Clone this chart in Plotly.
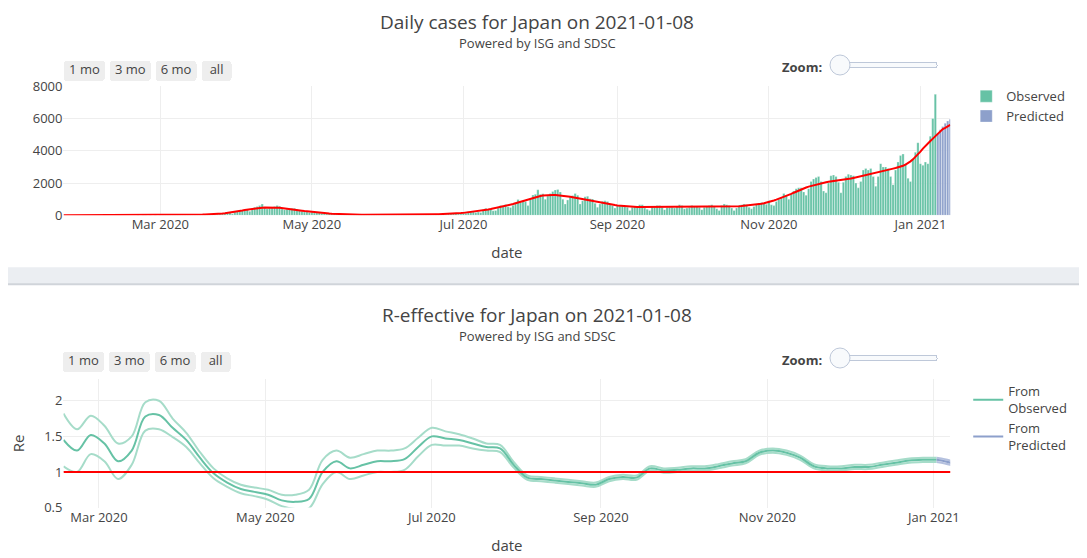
import plotly.graph_objects as go
import pandas as pd
import numpy as np

obs_start = "2020-01-22"
cases_jan = [0,0,0,1,0,1,2,1,2,1]
cases_feb = [1,0,0,2,0,1,3,1,0,1,0,2,3,5,8,2,4,5,10,8,12,9,15,12,10,14,10,16,9]
cases_mar = [15,20,25,12,30,28,40,30,25,20,50,55,45,60,35,30,40,35,38,30,45,40,50,60,90,95,110,140,175,90,210]
cases_apr = [250,260,300,320,370,250,350,500,550,600,700,520,400,450,480,550,600,560,400,350,380,420,430,440,380,300,250,210,220,180]
cases_may = [200,150,200,180,120,100,90,110,80,90,60,70,50,55,80,40,30,20,20,30,25,20,15,30,20,25,35,40,45,35,30]
cases_jun = [40,35,45,40,50,35,45,30,30,40,45,40,50,55,45,40,45,35,60,70,60,55,40,55,80,100,90,110,80,100]
cases_jul = [120,130,220,250,210,180,200,180,350,430,380,400,280,300,450,600,590,670,530,480,620,780,980,800,860,850,600,980,1260,1300,1580]
cases_aug = [1300,1330,1000,1200,1350,1480,1570,1600,1450,1000,700,950,1170,1230,1350,1250,700,900,1150,1180,1020,1010,750,500,700,870,900,850,650,600,450]
cases_sep = [600,570,600,550,500,300,500,550,580,650,650,450,380,300,580,500,600,600,500,350,480,500,500,450,550,650,600,400,450,500]
cases_oct = [600,550,550,500,350,500,550,600,650,550,400,300,600,700,650,600,450,300,450,600,650,700,650,500,400,550,700,750,800,750,680]
cases_nov = [900,650,600,850,1000,1100,1350,1200,1000,1300,1500,1650,1700,1700,1450,1250,1650,2100,2250,2350,2400,2100,1500,1400,2000,2450,2500,2400,2050,1400]
cases_dec = [2050,2400,2550,2500,2450,2000,1700,2100,2800,2900,2800,2900,2400,1800,2400,3200,3000,3000,2900,2400,1900,2800,3300,3700,3800,3200,2300,2100,3500,3900,4500]
cases_jan21 = [3200,3100,3300,3200,4900,6000,7500]
pred_start = "2021-01-08"
pred_cases = [5100,5300,5500,5700,5850,5950]

re_start = "2020-02-17"
re_mean = [1.45,1.3,1.52,1.4,1.15,1.3,1.78,1.8,1.62,1.45,1.2,0.98,0.85,0.76,0.72,0.68,0.6,0.58,0.62,1.0,
           1.15,1.05,1.1,1.15,1.15,1.18,1.35,1.5,1.47,1.45,1.4,1.35,1.33,1.1,0.92,0.9,0.88,0.86,0.84,0.82,
           0.9,0.93,0.92,1.05,1.02,1.03,1.05,1.05,1.08,1.12,1.15,1.27,1.3,1.27,1.2,1.08,1.05,1.05,1.07,1.07,
           1.1,1.13,1.16,1.17,1.17]
re_spread = [0.37,0.3,0.27,0.25,0.25,0.2,0.2,0.2,0.13,0.1,0.08,0.07,0.06,0.06,0.06,0.07,0.08,0.1,0.13,0.17,
             0.15,0.15,0.15,0.15,0.15,0.15,0.13,0.12,0.1,0.08,0.07,0.05,0.05,0.04,0.03,0.03,0.03,0.03,0.03,0.03,
             0.03,0.03,0.03,0.03,0.03,0.03,0.03,0.03,0.03,0.03,0.03,0.03,0.03,0.03,0.03,0.03,0.03,0.03,0.03,0.03,
             0.03,0.03,0.03,0.03,0.03]
re_pred_dates = ["2021-01-02","2021-01-05","2021-01-08"]
re_pred = [1.17,1.15,1.12]
re_pred_spread = [0.03,0.03,0.03]

GREEN = "#66c2a5"; BLUE = "#8da0cb"; LGREEN = "#a6dcc9"; LBLUE = "#b4c0de"

obs = (cases_jan+cases_feb+cases_mar+cases_apr+cases_may+cases_jun+cases_jul+cases_aug+
       cases_sep+cases_oct+cases_nov+cases_dec+cases_jan21)
obs_dates = pd.date_range(obs_start, periods=len(obs), freq="D")
pred_dates = pd.date_range(pred_start, periods=len(pred_cases), freq="D")
allv = pd.Series(obs + pred_cases, index=obs_dates.append(pred_dates))
trend = allv.rolling(15, center=True, min_periods=1).mean().rolling(7, center=True, min_periods=1).mean()

re_dates = pd.date_range(re_start, periods=len(re_mean), freq="5D")
rm = np.array(re_mean); rs = np.array(re_spread)
pm = np.array(re_pred); ps = np.array(re_pred_spread)

fig = go.Figure()
fig.add_bar(x=obs_dates, y=obs, name="Observed", marker=dict(color=GREEN, line=dict(width=0.3, color="white")), legend="legend")
fig.add_bar(x=pred_dates, y=pred_cases, name="Predicted", marker=dict(color=BLUE, line=dict(width=0.3, color="white")), legend="legend")
fig.add_scatter(x=trend.index, y=trend.values, mode="lines", line=dict(color="red", width=2), showlegend=False)

for arr, c, show in [(rm+rs, LGREEN, False), (rm-rs, LGREEN, False), (rm, GREEN, True)]:
    fig.add_scatter(x=re_dates, y=arr, mode="lines", line=dict(color=c, width=2, shape="spline"),
                    name="From<br>Observed", showlegend=show, xaxis="x2", yaxis="y2", legend="legend2")
for arr, c, show in [(pm+ps, LBLUE, False), (pm-ps, LBLUE, False), (pm, BLUE, True)]:
    fig.add_scatter(x=re_pred_dates, y=arr, mode="lines", line=dict(color=c, width=2, shape="spline"),
                    name="From<br>Predicted", showlegend=show, xaxis="x2", yaxis="y2", legend="legend2")
fig.add_scatter(x=["2020-02-17", "2021-01-08"], y=[1, 1], mode="lines", line=dict(color="red", width=2),
                showlegend=False, xaxis="x2", yaxis="y2")

W, H = 1087, 558
# empirical correction of the page's rendering offset
def px(p): return ((p - 70) / 0.992 + 63) / W
def py(p): return 1 - ((p - 43) / 0.967 + 26) / H

btns = [dict(count=1, label="1 mo", step="month", stepmode="backward"),
        dict(count=3, label="3 mo", step="month", stepmode="backward"),
        dict(count=6, label="6 mo", step="month", stepmode="backward"),
        dict(step="all", label="all")]

fig.update_layout(
    width=W, height=H, margin=dict(l=0, r=0, t=0, b=0),
    paper_bgcolor="white", plot_bgcolor="white", bargap=0.1,
    font=dict(family="Open Sans, sans-serif", color="#444", size=13),
    xaxis=dict(domain=[px(63), px(950)], anchor="y", range=["2020-01-22", "2021-01-13"],
               showgrid=True, gridcolor="#eee", title=dict(text="date", font=dict(size=15)),
               tickformat="%b %Y", dtick="M2", tick0="2020-03-01",
               rangeselector=dict(buttons=btns, x=px(63), y=py(69), yanchor="top", xanchor="left",
                                  bgcolor="#eeeeee", activecolor="#d4d4d4", font=dict(size=13))),
    yaxis=dict(domain=[py(216), py(87)], anchor="x", range=[0, 8000], gridcolor="#eee", dtick=2000, zeroline=False),
    xaxis2=dict(domain=[px(63), px(950)], anchor="y2", range=["2020-02-17", "2021-01-07"],
                showgrid=True, gridcolor="#eee", title=dict(text="date", font=dict(size=15)),
                tickformat="%b %Y", dtick="M2", tick0="2020-03-01",
                rangeselector=dict(buttons=btns, x=px(63), y=py(353), yanchor="top", xanchor="left",
                                   bgcolor="#eeeeee", activecolor="#d4d4d4", font=dict(size=13))),
    yaxis2=dict(domain=[py(508), py(380)], anchor="x2", range=[0.5, 2.3], gridcolor="#eee",
                tickvals=[0.5, 1, 1.5, 2], ticktext=["0.5", "1", "1.5", "2"], zeroline=False,
                title=dict(text="Re", font=dict(size=15))),
    legend=dict(x=px(966), y=py(82), xanchor="left", yanchor="top", font=dict(size=13), itemwidth=30),
    legend2=dict(x=px(968), y=py(377), xanchor="left", yanchor="top", font=dict(size=13), itemwidth=30),
    showlegend=True,
)

fig.add_shape(type="rect", xref="paper", yref="paper", x0=0, x1=1, y0=py(285), y1=py(268),
              fillcolor="#ebeef2", line=dict(width=0), layer="below")
fig.add_shape(type="line", xref="paper", yref="paper", x0=0, x1=1, y0=py(285), y1=py(285),
              line=dict(color="#d0d4da", width=2))
fig.add_shape(type="rect", xref="paper", yref="paper", x0=px(1082), x1=1, y0=0, y1=1,
              fillcolor="#ebeef2", line=dict(width=0), layer="below")

ann = [
    dict(text="Daily cases for Japan on 2021-01-08", x=px(537), y=py(23), font=dict(size=19)),
    dict(text="Powered by ISG and SDSC", x=px(537), y=py(44), font=dict(size=13)),
    dict(text="R-effective for Japan on 2021-01-08", x=px(537), y=py(316), font=dict(size=19)),
    dict(text="Powered by ISG and SDSC", x=px(537), y=py(337), font=dict(size=13)),
    dict(text="<b>Zoom:</b>", x=px(824), y=py(68), xanchor="right", font=dict(size=13)),
    dict(text="<b>Zoom:</b>", x=px(824), y=py(361), xanchor="right", font=dict(size=13)),
]
for a in ann:
    a.setdefault("xanchor", "center")
    fig.add_annotation(xref="paper", yref="paper", showarrow=False, yanchor="middle", **a)

steps = [dict(label="", method="skip", args=[None]) for _ in range(10)]
def slider(yc):
    return dict(active=0, x=px(830), len=px(945) - px(830), y=py(yc), yanchor="middle", xanchor="left",
                pad=dict(t=0, b=0, l=0, r=0), currentvalue=dict(visible=False), steps=steps,
                ticklen=0, minorticklen=0, tickcolor="rgba(0,0,0,0)", bgcolor="#f8fafc",
                bordercolor="#bec8d9", activebgcolor="#f8fafc", font=dict(size=1, color="rgba(0,0,0,0)"))
fig.update_layout(sliders=[slider(68), slider(361)])

fig.write_html("out.html")
